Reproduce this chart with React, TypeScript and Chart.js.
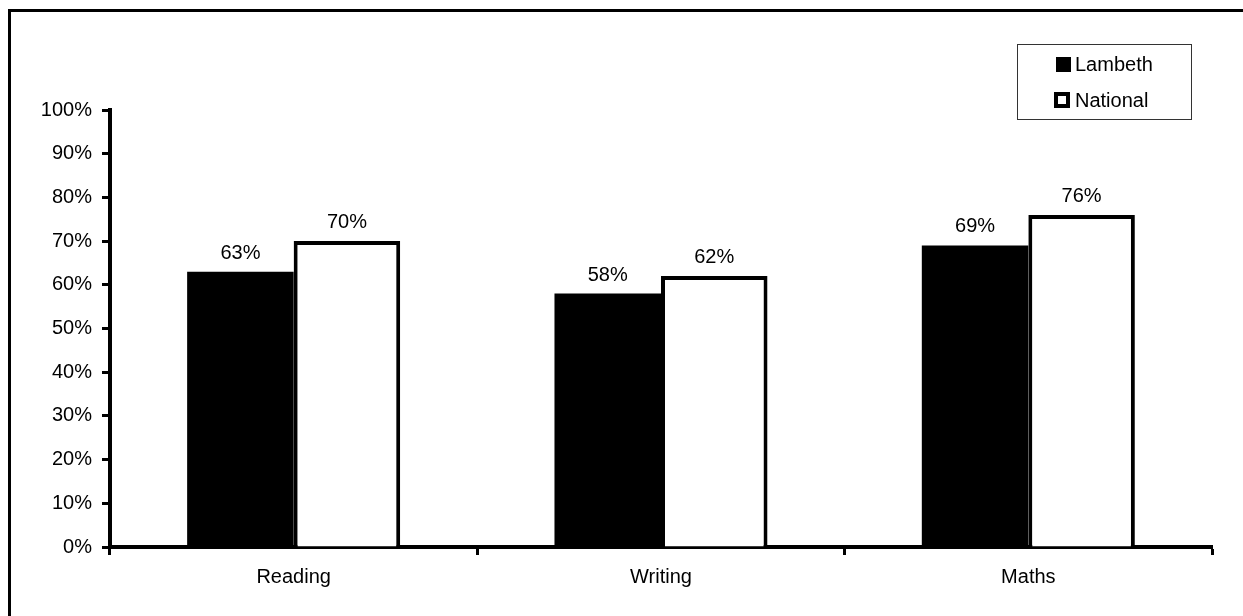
import React, { useEffect, useRef } from "react";
import { Chart, registerables } from "chart.js";

Chart.register(...registerables);

const categories = ["Reading", "Writing", "Maths"];
const lambethValues = [63, 58, 69];
const nationalValues = [70, 62, 76];
const seriesNames = ["Lambeth", "National"];
const yTickMax = 100;
const yTickStep = 10;

const FONT = '"Liberation Sans", Arial, sans-serif';

const backgroundPlugin = {
  id: "bgFrame",
  beforeDraw(chart: any) {
    const { ctx, width, height } = chart;
    ctx.save();
    ctx.fillStyle = "#ffffff";
    ctx.fillRect(0, 0, width, height);
    ctx.strokeStyle = "#000000";
    ctx.lineWidth = 3;
    ctx.beginPath();
    ctx.moveTo(9.5, height + 10);
    ctx.lineTo(9.5, 10.5);
    ctx.lineTo(width + 10, 10.5);
    ctx.stroke();
    ctx.restore();
  },
};

const valueLabelPlugin = {
  id: "valueLabels",
  afterDatasetsDraw(chart: any) {
    const { ctx } = chart;
    ctx.save();
    ctx.font = `20px ${FONT}`;
    ctx.fillStyle = "#000000";
    ctx.textAlign = "center";
    ctx.textBaseline = "alphabetic";
    chart.data.datasets.forEach((ds: any, i: number) => {
      const meta = chart.getDatasetMeta(i);
      meta.data.forEach((el: any, j: number) => {
        ctx.fillText(`${ds.data[j]}%`, el.x, el.y - 13);
      });
    });
    ctx.restore();
  },
};

const legendPlugin = {
  id: "boxLegend",
  afterDraw(chart: any) {
    const { ctx } = chart;
    ctx.save();
    ctx.strokeStyle = "#333333";
    ctx.lineWidth = 1;
    ctx.strokeRect(1017.5, 44.5, 174, 75);
    ctx.font = `20px ${FONT}`;
    ctx.fillStyle = "#000000";
    ctx.textAlign = "left";
    ctx.textBaseline = "middle";
    const rows = [64, 100];
    chart.data.datasets.forEach((ds: any, i: number) => {
      const cy = rows[i];
      if (i === 0) {
        ctx.fillStyle = "#000000";
        ctx.fillRect(1056, cy - 7, 15, 15);
      } else {
        ctx.fillStyle = "#000000";
        ctx.fillRect(1054, cy - 8, 16, 16);
        ctx.fillStyle = "#ffffff";
        ctx.fillRect(1058, cy - 4, 8, 8);
      }
      ctx.fillStyle = "#000000";
      ctx.fillText(ds.label, 1075, cy + 1);
    });
    ctx.restore();
  },
};

export default function App() {
  const canvasRef = useRef<HTMLCanvasElement | null>(null);

  useEffect(() => {
    if (!canvasRef.current) return;
    const chart = new Chart(canvasRef.current, {
      type: "bar",
      data: {
        labels: categories,
        datasets: [
          {
            label: seriesNames[0],
            data: lambethValues,
            backgroundColor: "#000000",
            borderWidth: 0,
            categoryPercentage: 0.58,
            barPercentage: 1,
          },
          {
            label: seriesNames[1],
            data: nationalValues,
            backgroundColor: "#ffffff",
            borderColor: "#000000",
            borderWidth: 4,
            categoryPercentage: 0.58,
            barPercentage: 1,
          },
        ],
      },
      options: {
        responsive: false,
        animation: false,
        layout: { padding: { left: 0, right: 31, top: 110, bottom: 0 } },
        plugins: {
          legend: { display: false },
          tooltip: { enabled: false },
        },
        scales: {
          x: {
            grid: {
              offset: true,
              drawOnChartArea: false,
              drawTicks: true,
              tickLength: 8,
              tickWidth: 3,
              tickColor: "#000000",
            },
            border: { display: true, color: "#000000", width: 4 },
            ticks: {
              color: "#000000",
              font: { family: FONT, size: 20 },
              padding: 10,
            },
            afterFit(scale: any) {
              scale.height = 69;
            },
          },
          y: {
            min: 0,
            max: yTickMax,
            grid: {
              drawOnChartArea: false,
              drawTicks: true,
              tickLength: 8,
              tickWidth: 3,
              tickColor: "#000000",
            },
            border: { display: true, color: "#000000", width: 4 },
            ticks: {
              stepSize: yTickStep,
              color: "#000000",
              font: { family: FONT, size: 20 },
              padding: 10,
              callback: (v: any) => `${v}%`,
            },
            afterFit(scale: any) {
              scale.width = 110;
            },
          },
        },
      },
      plugins: [backgroundPlugin, valueLabelPlugin, legendPlugin],
    } as any);
    return () => chart.destroy();
  }, []);

  return (
    <div style={{ position: "absolute", left: 0, top: 0, width: 1243, height: 616 }}>
      <canvas ref={canvasRef} width={1243} height={616} style={{ display: "block" }} />
    </div>
  );
}
